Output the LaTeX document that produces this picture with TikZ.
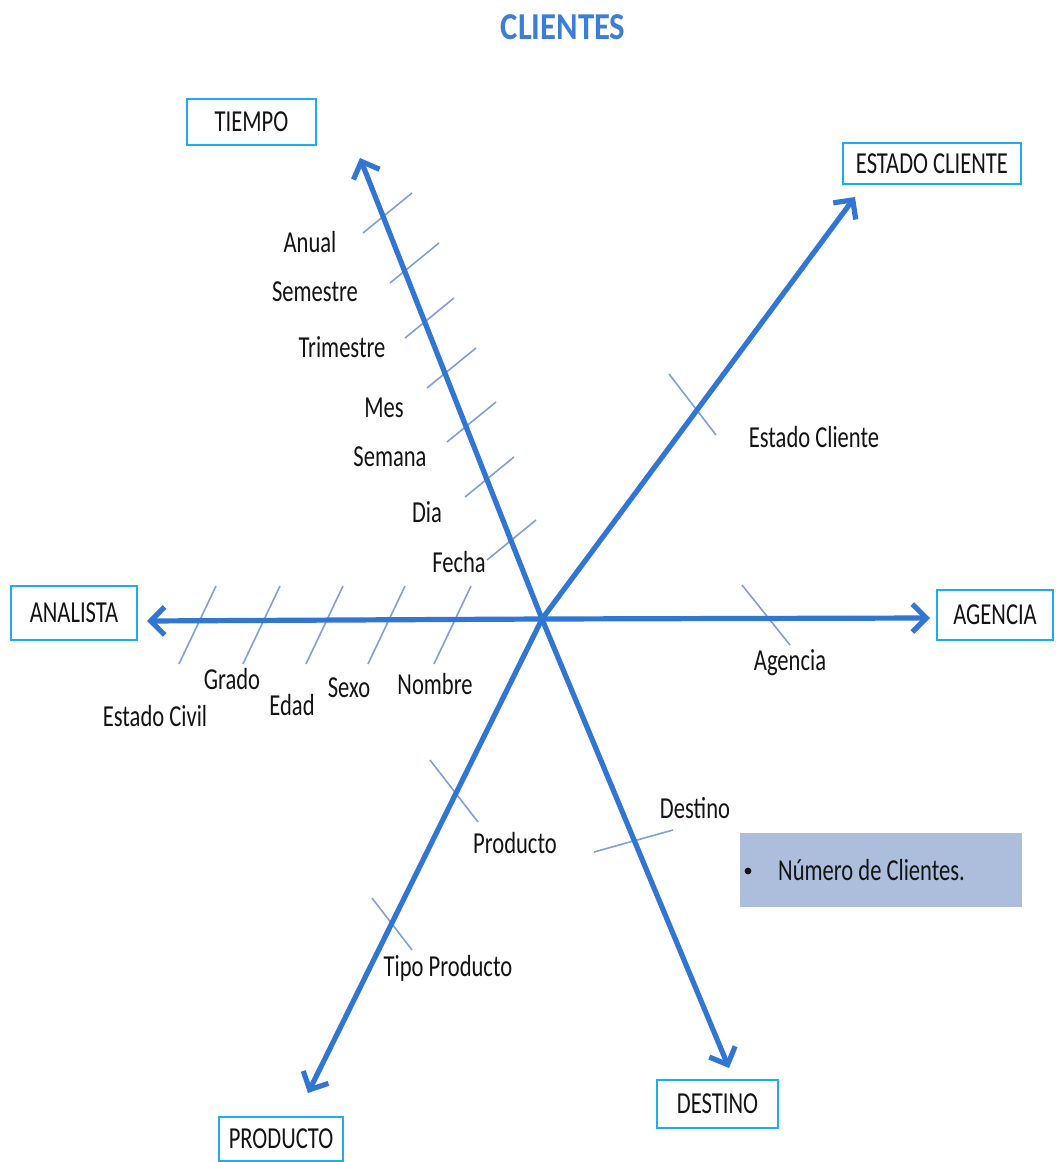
\documentclass[tikz,border=0pt]{standalone}
\usepackage{fontspec}
\setmainfont{Carlito}[FakeStretch=0.74]
\newfontfamily\titlefont{Carlito}[FakeStretch=0.86]
\usetikzlibrary{arrows.meta}
\definecolor{axisblue}{RGB}{50,118,212}
\definecolor{tickblue}{RGB}{128,160,214}
\definecolor{framecyan}{RGB}{30,172,238}
\definecolor{notefill}{RGB}{172,190,219}
\definecolor{titleblue}{RGB}{60,125,215}
\begin{document}
\begin{tikzpicture}[x=1pt,y=-1pt,
  axis/.style={draw=axisblue,line width=5.2pt,-{Straight Barb[length=14pt,width=28pt]}},
  tick/.style={draw=tickblue,line width=1.6pt},
  dimbox/.style={draw=framecyan,line width=2.6pt,fill=white,inner sep=0pt,
    font=\fontsize{30.5}{34}\selectfont,text=black!92},
  lbl/.style={inner sep=0pt,font=\fontsize{30.5}{34}\selectfont,text=black!92}]
\useasboundingbox (0,0) rectangle (1055,1162);
\fill[white] (0,0) rectangle (1055,1162);

% title
\node[font=\titlefont\bfseries\fontsize{38}{40}\selectfont,text=titleblue] (title) at (563,27) {CLIENTES};

% centre of the star and ends of the axes
\coordinate (c) at (542,619);
\coordinate (tTiempo) at (360,158);
\coordinate (tEstado) at (855,197);
\coordinate (tAgencia) at (930,618);
\coordinate (tAnalista) at (147,621);
\coordinate (tProducto) at (308,1093);
\coordinate (tDestino) at (729,1068);

% dimension boxes
\node[dimbox,minimum width=129pt,minimum height=46pt] (tiempo) at (251.5,122) {TIEMPO};
\node[dimbox,minimum width=178pt,minimum height=41pt] (estado) at (932,163.5) {ESTADO CLIENTE};
\node[dimbox,minimum width=126pt,minimum height=54pt] (analista) at (74,613) {ANALISTA};
\node[dimbox,minimum width=116pt,minimum height=50pt] (agencia) at (995,615) {AGENCIA};
\node[dimbox,minimum width=124pt,minimum height=44pt] (producto) at (281,1139) {PRODUCTO};
\node[dimbox,minimum width=121pt,minimum height=48pt] (destino) at (717.5,1104) {DESTINO};

% attribute ticks
\foreach \a/\b in {363/233,390/283,405/338,427/388,447/442,465/497,487/560}
  \draw[tick] (\a,\b) -- ++(49,-40);
\foreach \a in {179,243,306,368,434}
  \draw[tick] (\a,664) -- ++(37,-78);
\draw[tick] (669,374) -- (716,435);
\draw[tick] (742,585) -- (790,645);
\draw[tick] (594,852) -- (673,830);
\draw[tick] (430,760) -- (478,822);
\draw[tick] (372,898) -- (412,950);

% axes
\draw[axis] (c) -- (tTiempo);
\draw[axis] (c) -- (tEstado);
\draw[axis] (c) -- (tAgencia);
\draw[axis] (c) -- (tAnalista);
\draw[axis] (c) -- (tProducto);
\draw[axis] (c) -- (tDestino);

% attribute labels
\node[lbl] (anual) at (310,242) {Anual};
\node[lbl] (semestre) at (315,292) {Semestre};
\node[lbl] (trimestre) at (342,347) {Trimestre};
\node[lbl] (mes) at (384,408) {Mes};
\node[lbl] (semana) at (390,457) {Semana};
\node[lbl] (dia) at (427,512) {Dia};
\node[lbl] (fecha) at (459,562) {Fecha};
\node[lbl] (civil) at (155,716) {Estado Civil};
\node[lbl] (grado) at (232,679) {Grado};
\node[lbl] (edad) at (292,705) {Edad};
\node[lbl] (sexo) at (349,688) {Sexo};
\node[lbl] (nombre) at (435,684) {Nombre};
\node[lbl] (estcli) at (814,437) {Estado Cliente};
\node[lbl] (agen) at (790,663) {Agencia};
\node[lbl] (dest) at (695,808) {Destino};
\node[lbl] (prod) at (515,843) {Producto};
\node[lbl] (tipo) at (448,968) {Tipo Producto};

% measure
\node[fill=notefill,minimum width=282pt,minimum height=74pt,inner sep=0pt] (measure) at (881,870) {};
\fill[black!92] (748,871) circle (3.4pt);
\node[lbl,anchor=west] (numero) at (778,870) {Número de Clientes.};
\end{tikzpicture}
\end{document}
